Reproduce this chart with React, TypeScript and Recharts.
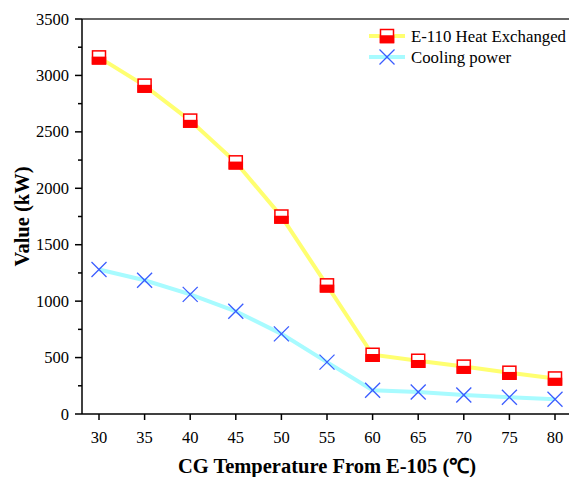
import React from 'react';
import { LineChart, Line, XAxis, YAxis, ReferenceLine } from 'recharts';

const temperatures = [30, 35, 40, 45, 50, 55, 60, 65, 70, 75, 80];
const heatExchanged = [3160, 2910, 2600, 2230, 1750, 1140, 525, 472, 420, 366, 315];
const coolingPower = [1280, 1185, 1060, 910, 710, 460, 210, 195, 168, 148, 130];
const yTicks = [0, 250, 500, 750, 1000, 1250, 1500, 1750, 2000, 2250, 2500, 2750, 3000, 3250, 3500];

const data = temperatures.map((t, i) => ({ t, heat: heatExchanged[i], cool: coolingPower[i] }));

const FONT = '"Liberation Serif", "Times New Roman", serif';
const RED = '#ff0000';
const BLUE = '#3a5cff';
const YELLOW = '#ffff70';
const CYAN = '#a8fbff';

const SquareDot = (props: any) => {
  const { cx, cy } = props;
  if (cx == null || cy == null) return null;
  const s = 13;
  return (
    <g>
      <rect x={cx - s / 2} y={cy - s / 2} width={s} height={s} fill="#fff" stroke={RED} strokeWidth={1.5} />
      <rect x={cx - s / 2} y={cy} width={s} height={s / 2} fill={RED} stroke={RED} strokeWidth={1.5} />
    </g>
  );
};

const CrossDot = (props: any) => {
  const { cx, cy } = props;
  if (cx == null || cy == null) return null;
  const r = 7.5;
  return (
    <g stroke={BLUE} strokeWidth={1.3}>
      <line x1={cx - r} y1={cy - r} x2={cx + r} y2={cy + r} />
      <line x1={cx - r} y1={cy + r} x2={cx + r} y2={cy - r} />
    </g>
  );
};

const YTick = (props: any) => {
  const { x, y, payload } = props;
  const v = payload.value;
  const major = v % 500 === 0;
  return (
    <g>
      <line x1={x} y1={y} x2={x - (major ? 7 : 4)} y2={y} stroke="#000" strokeWidth={1.5} />
      {major && (
        <text x={x - 13} y={y} dy={5.5} textAnchor="end" fontFamily={FONT} fontSize={16.5} fill="#000">
          {v}
        </text>
      )}
    </g>
  );
};

const LegendBox = () => (
  <svg width={202} height={44} style={{ position: 'absolute', left: 367, top: 26 }}>
    <line x1={2} y1={10} x2={38} y2={10} stroke={YELLOW} strokeWidth={4} />
    <SquareDot cx={20} cy={10} />
    <text x={44} y={15.5} fontFamily={FONT} fontSize={16.8} fill="#000">E-110 Heat Exchanged</text>
    <line x1={2} y1={31} x2={38} y2={31} stroke={CYAN} strokeWidth={4} />
    <CrossDot cx={20} cy={31} />
    <text x={44} y={36.5} fontFamily={FONT} fontSize={16.8} fill="#000">Cooling power</text>
  </svg>
);

export default function App() {
  return (
    <div style={{ position: 'absolute', left: 0, top: 0, width: 569, height: 477, overflow: 'hidden', background: '#fff' }}>
      <LineChart width={600} height={477} data={data} margin={{ top: 19, right: 28, bottom: 0, left: 0 }}>
        <XAxis
          dataKey="t"
          type="category"
          padding={{ left: 17, right: 17 }}
          height={63}
          tickSize={6}
          tickMargin={11}
          stroke="#000"
          strokeWidth={1.5}
          tick={{ fontFamily: FONT, fontSize: 16.5, fill: '#000' }}
          tickLine={{ stroke: '#000', strokeWidth: 1.5 }}
          label={{
            value: 'CG Temperature From E-105 (℃)',
            position: 'insideBottom',
            offset: 4,
            style: { fontFamily: FONT, fontSize: 20.5, fontWeight: 'bold', fill: '#000' },
          }}
        />
        <YAxis
          width={82}
          domain={[0, 3500]}
          ticks={yTicks}
          interval={0}
          tickSize={0}
          tickMargin={0}
          tickLine={false}
          stroke="#000"
          strokeWidth={1.5}
          tick={<YTick />}
          label={{
            value: 'Value (kW)',
            angle: -90,
            position: 'insideLeft',
            offset: 22,
            style: { fontFamily: FONT, fontSize: 20.5, fontWeight: 'bold', fill: '#000', textAnchor: 'middle' },
          }}
        />
        <ReferenceLine y={3500} stroke="#333" strokeWidth={1.5} />
        <Line
          dataKey="heat"
          name="E-110 Heat Exchanged"
          stroke={YELLOW}
          strokeWidth={4}
          dot={<SquareDot />}
          activeDot={false}
          isAnimationActive={false}
        />
        <Line
          dataKey="cool"
          name="Cooling power"
          stroke={CYAN}
          strokeWidth={4}
          dot={<CrossDot />}
          activeDot={false}
          isAnimationActive={false}
        />
      </LineChart>
      <LegendBox />
    </div>
  );
}
